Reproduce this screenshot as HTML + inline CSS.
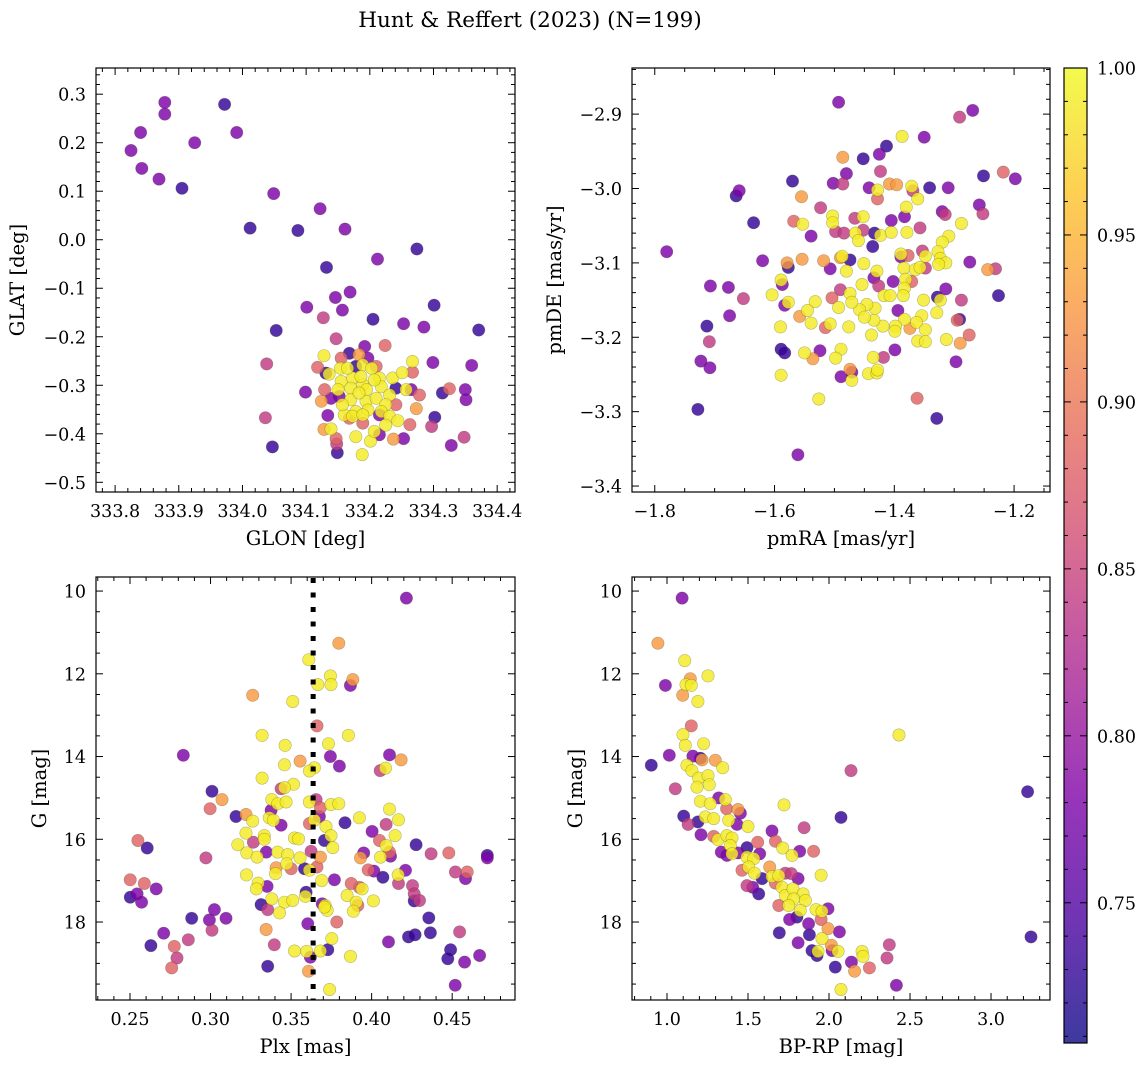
<!DOCTYPE html>
<html><head><meta charset="utf-8"><style>
html,body{margin:0;padding:0;background:#fff}
svg{display:block;font-family:"DejaVu Serif","Liberation Serif",serif}
</style></head><body>
<svg id="fig" width="1148" height="1067" viewBox="0 0 1148 1067" xmlns="http://www.w3.org/2000/svg">
<text x="530" y="27" font-size="21.5" text-anchor="middle">Hunt &amp; Reffert (2023) (N=199)</text>
<defs><linearGradient id="plasma" x1="0" y1="1" x2="0" y2="0"></linearGradient></defs>
</svg>
<script>
// ---- Panel 1: GLON vs GLAT ----
const p1x=[333.878,333.878,333.840,333.825,333.842,333.869,333.905,333.972,333.991,333.925,334.049,334.122,334.012,334.087,334.161,334.274,334.212,334.132,334.169,334.146,334.101,334.157,334.127,334.205,334.253,334.285,334.301,334.371,334.053,334.147,334.192,334.224,334.038,334.299,334.360,334.099,334.314,334.325,334.350,334.351,334.124,334.273,334.036,334.134,334.302,334.297,334.263,334.348,334.328,334.047,334.149,334.148,334.147,334.237,334.253,334.128,334.188,
334.155,334.183,334.168,334.197,334.210,334.118,334.178,334.131,334.129,334.139,334.241,334.267,334.278,334.265,334.241,334.215,334.168,334.189,334.215,334.152,
334.128,334.154,334.136,334.155,334.173,334.189,334.203,334.215,334.236,334.251,334.267,334.150,334.170,334.189,334.195,334.218,334.231,334.257,334.170,334.194,334.210,334.225,334.160,334.178,334.197,334.218,334.231,334.244,334.173,334.189,334.139,334.178,334.201,334.207,334.225,334.157,334.183,334.207,334.165,334.186];
const p1y=[0.283,0.259,0.221,0.184,0.147,0.125,0.106,0.279,0.221,0.200,0.095,0.064,0.024,0.019,0.022,-0.019,-0.040,-0.057,-0.108,-0.119,-0.139,-0.145,-0.161,-0.164,-0.173,-0.180,-0.135,-0.186,-0.187,-0.204,-0.220,-0.218,-0.256,-0.253,-0.259,-0.314,-0.316,-0.307,-0.309,-0.330,-0.333,-0.348,-0.367,-0.362,-0.366,-0.385,-0.381,-0.407,-0.424,-0.427,-0.439,-0.421,-0.410,-0.411,-0.410,-0.391,-0.443,
-0.244,-0.237,-0.234,-0.244,-0.261,-0.263,-0.261,-0.275,-0.309,-0.327,-0.306,-0.273,-0.320,-0.309,-0.340,-0.361,-0.368,-0.378,-0.402,-0.323,
-0.239,-0.265,-0.277,-0.292,-0.285,-0.258,-0.265,-0.285,-0.285,-0.274,-0.251,-0.309,-0.306,-0.299,-0.309,-0.303,-0.320,-0.309,-0.330,-0.333,-0.327,-0.340,-0.361,-0.354,-0.351,-0.354,-0.364,-0.373,-0.364,-0.361,-0.390,-0.406,-0.415,-0.395,-0.382,-0.340,-0.316,-0.289,-0.265,-0.282];
const p1c=[0.78,0.78,0.78,0.78,0.78,0.78,0.73,0.73,0.78,0.78,0.78,0.78,0.73,0.73,0.78,0.73,0.78,0.73,0.78,0.78,0.78,0.78,0.84,0.73,0.78,0.78,0.73,0.73,0.73,0.84,0.78,0.88,0.84,0.78,0.78,0.78,0.73,0.88,0.78,0.78,0.93,0.93,0.84,0.78,0.73,0.84,0.88,0.84,0.78,0.73,0.73,0.84,0.88,0.93,0.78,0.93,0.99,
0.88,0.93,0.73,0.78,0.88,0.88,0.73,0.73,0.88,0.78,0.73,0.88,0.88,0.78,0.88,0.78,0.88,0.88,0.78,0.78,
0.99,0.99,0.99,0.99,0.99,0.99,0.99,0.99,0.99,0.99,0.99,0.99,0.99,0.99,0.99,0.99,0.99,0.99,0.99,0.99,0.99,0.99,0.99,0.99,0.99,0.99,0.99,0.99,0.99,0.99,0.99,0.99,0.99,0.99,0.99,0.99,0.99,0.99,0.99,0.99];
// ---- Panel 2: pmRA vs pmDE ----
const p2x=[-1.493,-1.780,-1.728,-1.561,-1.664,-1.659,-1.635,-1.620,-1.707,-1.677,-1.652,-1.675,-1.713,-1.709,-1.723,-1.708,-1.570,-1.555,-1.568,-1.553,-1.523,-1.539,-1.502,-1.486,-1.480,-1.486,-1.452,-1.425,-1.413,-1.387,-1.350,-1.423,-1.442,-1.428,-1.428,-1.408,-1.396,-1.371,-1.369,-1.361,-1.341,-1.310,-1.291,-1.269,-1.251,-1.218,-1.198,-1.258,-1.252,-1.320,-1.315,-1.288,-1.380,-1.383,-1.405,-1.357,-1.503,-1.503,-1.498,-1.484,-1.466,-1.452,-1.452,-1.465,-1.460,-1.433,-1.423,-1.436,-1.405,-1.379,-1.309,-1.320,-1.274,-1.244,-1.231,-1.226,-1.327,-1.323,-1.314,-1.326,-1.348,-1.353,-1.348,-1.389,-1.377,-1.389,-1.384,-1.365,-1.357,-1.381,-1.383,-1.385,-1.402,-1.371,-1.314,-1.328,-1.323,-1.288,-1.351,-1.329,-1.354,-1.295,-1.291,-1.275,-1.290,-1.313,-1.297,-1.362,-1.329,-1.363,-1.348,-1.361,-1.348,-1.374,-1.394,-1.383,-1.398,-1.399,-1.419,-1.438,-1.434,-1.432,-1.446,-1.458,-1.450,-1.435,-1.418,-1.399,-1.443,-1.429,-1.428,-1.471,-1.474,-1.471,-1.489,-1.489,-1.498,-1.476,-1.493,-1.504,-1.490,-1.474,-1.471,-1.454,-1.451,-1.434,-1.429,-1.426,-1.417,-1.407,-1.480,-1.487,-1.490,-1.474,-1.507,-1.518,-1.554,-1.579,-1.577,-1.589,-1.587,-1.604,-1.577,-1.583,-1.532,-1.545,-1.558,-1.539,-1.515,-1.507,-1.590,-1.589,-1.583,-1.550,-1.524,-1.536,-1.589,-1.526];
const p2y=[-2.884,-3.085,-3.297,-3.358,-3.010,-3.003,-3.046,-3.097,-3.131,-3.133,-3.148,-3.171,-3.185,-3.206,-3.232,-3.241,-2.990,-3.011,-3.044,-3.048,-3.026,-3.064,-2.993,-2.994,-2.980,-2.958,-2.960,-2.954,-2.943,-2.930,-2.931,-2.977,-2.999,-3.002,-3.014,-2.994,-2.995,-2.997,-3.003,-3.014,-2.999,-2.999,-2.904,-2.895,-2.983,-2.978,-2.987,-3.022,-3.034,-3.031,-3.035,-3.047,-3.025,-3.038,-3.043,-3.053,-3.037,-3.046,-3.058,-3.060,-3.040,-3.038,-3.056,-3.060,-3.070,-3.060,-3.063,-3.078,-3.059,-3.059,-3.064,-3.072,-3.099,-3.109,-3.108,-3.144,-3.085,-3.094,-3.100,-3.102,-3.091,-3.084,-3.107,-3.088,-3.090,-3.092,-3.107,-3.109,-3.106,-3.122,-3.134,-3.144,-3.125,-3.125,-3.135,-3.146,-3.150,-3.150,-3.150,-3.167,-3.171,-3.177,-3.176,-3.197,-3.208,-3.203,-3.233,-3.282,-3.309,-3.180,-3.190,-3.205,-3.206,-3.188,-3.164,-3.176,-3.185,-3.192,-3.185,-3.197,-3.177,-3.161,-3.156,-3.163,-3.173,-3.227,-3.227,-3.217,-3.249,-3.248,-3.244,-3.258,-3.243,-3.247,-3.253,-3.216,-3.228,-3.186,-3.160,-3.147,-3.136,-3.141,-3.153,-3.129,-3.101,-3.120,-3.111,-3.131,-3.144,-3.144,-3.111,-3.091,-3.093,-3.096,-3.108,-3.097,-3.095,-3.100,-3.106,-3.123,-3.129,-3.143,-3.153,-3.157,-3.152,-3.164,-3.172,-3.181,-3.187,-3.182,-3.186,-3.216,-3.221,-3.221,-3.218,-3.229,-3.251,-3.283];
const p2c=[0.78,0.78,0.73,0.78,0.73,0.78,0.73,0.78,0.78,0.78,0.84,0.78,0.73,0.84,0.78,0.78,0.73,0.93,0.88,0.99,0.84,0.78,0.78,0.84,0.78,0.93,0.73,0.78,0.73,0.99,0.78,0.84,0.78,0.99,0.88,0.93,0.93,0.99,0.84,0.99,0.73,0.78,0.84,0.78,0.73,0.88,0.78,0.78,0.84,0.78,0.84,0.99,0.99,0.78,0.78,0.84,0.99,0.99,0.84,0.84,0.84,0.99,0.84,0.99,0.99,0.73,0.99,0.73,0.99,0.99,0.99,0.99,0.78,0.93,0.84,0.73,0.99,0.99,0.99,0.99,0.99,0.84,0.84,0.99,0.88,0.78,0.99,0.99,0.99,0.99,0.99,0.99,0.78,0.88,0.78,0.73,0.99,0.84,0.99,0.99,0.99,0.88,0.73,0.88,0.93,0.99,0.78,0.88,0.73,0.99,0.99,0.99,0.99,0.93,0.78,0.99,0.99,0.99,0.99,0.99,0.99,0.99,0.99,0.99,0.99,0.99,0.84,0.78,0.99,0.99,0.99,0.99,0.93,0.78,0.78,0.99,0.99,0.99,0.99,0.88,0.84,0.99,0.99,0.99,0.99,0.78,0.99,0.84,0.99,0.99,0.99,0.99,0.93,0.73,0.78,0.93,0.93,0.93,0.73,0.99,0.78,0.99,0.99,0.78,0.99,0.99,0.93,0.99,0.88,0.99,0.99,0.73,0.73,0.99,0.78,0.93,0.99,0.99];
// ---- Panel 3: Plx vs G ----
const p3x=[0.4216,0.3796,0.3610,0.3744,0.3748,0.3666,0.3883,0.3868,0.3262,0.3510,0.3661,0.3320,0.3856,0.3732,0.3463,0.2831,0.3744,0.3800,0.3556,0.3459,0.3645,0.3614,0.4111,0.4183,0.4086,0.4053,0.3320,0.3515,0.3459,0.3438,0.3009,0.3071,0.2997,0.3380,0.3417,0.3469,0.3376,0.3158,0.3220,0.3262,0.3365,0.3390,0.3438,0.3614,0.3655,0.3682,0.3676,0.3645,0.3614,0.3748,0.3796,0.3717,0.3748,0.3707,0.3759,0.3835,0.3924,0.4111,0.4167,0.4090,0.4146,0.4003,0.4276,0.4369,0.4479,0.4718,0.4718,0.4049,0.4090,0.4111,0.4117,0.4055,0.3951,0.3931,0.3979,0.4014,0.4070,0.4165,0.4210,0.4167,0.4254,0.4264,0.4264,0.4297,0.4520,0.4593,0.4583,0.3220,0.3334,0.3334,0.3266,0.3169,0.3225,0.3289,0.3346,0.3417,0.3479,0.3521,0.3546,0.3556,0.3473,0.3407,0.3403,0.3501,0.3583,0.3614,0.3661,0.3624,0.3682,0.3223,0.3295,0.3285,0.3351,0.2971,0.2549,0.2607,0.2501,0.2589,0.2663,0.2502,0.2544,0.2572,0.3380,0.3459,0.3510,0.3589,0.3593,0.3693,0.3712,0.3724,0.3707,0.3314,0.3355,0.3428,0.3848,0.3904,0.3914,0.3887,0.3941,0.3924,0.4011,0.3873,0.3690,0.3769,0.3024,0.2993,0.3096,0.2883,0.3009,0.2709,0.2630,0.2775,0.2862,0.2792,0.2759,0.3345,0.3396,0.3355,0.3521,0.3604,0.3597,0.3620,0.3682,0.3728,0.3753,0.3869,0.3784,0.3608,0.3739,0.4105,0.4229,0.4270,0.4365,0.4355,0.4546,0.4490,0.4473,0.4577,0.4670,0.4519];
const p3y=[10.17,11.26,11.66,12.05,12.26,12.26,12.14,12.28,12.52,12.67,13.26,13.49,13.49,13.69,13.73,13.97,14.00,14.23,14.11,14.20,14.27,14.35,13.96,14.08,14.28,14.34,14.52,14.67,14.75,14.78,14.84,15.04,15.26,15.04,15.14,15.10,15.30,15.45,15.40,15.56,15.48,15.54,15.66,15.10,15.04,15.24,15.45,15.54,15.62,15.16,15.14,15.69,15.91,16.03,16.20,15.60,15.48,15.27,15.53,15.64,15.91,15.81,16.13,16.35,16.33,16.39,16.45,16.03,16.15,16.31,16.41,16.43,16.33,16.45,16.74,16.77,16.92,16.86,16.75,17.07,17.12,17.32,17.49,17.48,16.79,16.79,16.95,15.85,15.91,16.00,16.07,16.13,16.33,16.43,16.31,16.31,16.37,15.97,15.99,16.45,16.59,16.69,16.83,16.71,16.71,16.75,16.67,16.29,16.43,16.86,17.06,17.20,17.14,16.45,16.03,16.21,16.98,17.07,17.20,17.40,17.32,17.52,17.44,17.52,17.48,17.38,17.28,17.56,17.60,17.72,17.64,17.58,17.70,17.78,17.36,17.52,17.60,17.74,17.20,17.16,17.49,17.07,17.00,16.98,17.70,17.95,17.91,17.91,18.20,18.27,18.57,18.59,18.43,18.87,19.11,18.18,18.55,19.07,18.70,18.04,18.71,18.85,18.70,18.67,18.40,18.83,18.00,19.19,19.63,18.48,18.36,18.31,18.26,17.90,18.24,18.67,18.89,18.97,18.81,19.53];
const p3c=[0.78,0.93,0.99,0.99,0.99,0.99,0.93,0.78,0.93,0.99,0.88,0.99,0.99,0.99,0.99,0.78,0.78,0.78,0.93,0.99,0.99,0.99,0.78,0.93,0.99,0.84,0.99,0.99,0.99,0.84,0.73,0.93,0.88,0.99,0.99,0.99,0.78,0.73,0.93,0.99,0.99,0.99,0.78,0.99,0.84,0.88,0.78,0.99,0.88,0.99,0.99,0.99,0.99,0.73,0.99,0.73,0.99,0.99,0.99,0.84,0.99,0.78,0.73,0.84,0.88,0.73,0.78,0.88,0.99,0.88,0.78,0.99,0.78,0.93,0.88,0.78,0.73,0.99,0.78,0.84,0.84,0.84,0.73,0.84,0.84,0.88,0.78,0.99,0.99,0.99,0.84,0.99,0.99,0.99,0.78,0.99,0.99,0.99,0.99,0.99,0.99,0.93,0.99,0.88,0.73,0.99,0.88,0.84,0.93,0.99,0.99,0.99,0.78,0.84,0.88,0.73,0.88,0.88,0.78,0.73,0.78,0.78,0.99,0.99,0.99,0.99,0.73,0.78,0.99,0.99,0.99,0.73,0.84,0.99,0.99,0.99,0.88,0.99,0.99,0.88,0.99,0.88,0.99,0.78,0.78,0.78,0.78,0.73,0.84,0.78,0.73,0.88,0.84,0.84,0.88,0.93,0.84,0.73,0.99,0.78,0.99,0.78,0.99,0.73,0.99,0.99,0.88,0.93,0.99,0.78,0.73,0.73,0.73,0.73,0.84,0.73,0.73,0.78,0.78,0.78];
// ---- Panel 4: BP-RP vs G ----
const p4x=[1.093,0.944,1.109,1.253,0.990,1.144,1.117,1.150,1.097,1.191,1.150,1.099,1.113,1.226,2.432,1.014,0.903,1.160,1.206,1.216,1.298,1.344,1.123,1.154,1.195,1.253,1.185,1.261,1.051,2.136,3.226,1.206,1.267,1.319,1.360,1.368,1.438,1.453,1.103,1.237,1.288,1.191,1.130,1.381,1.500,1.432,1.722,2.074,1.210,1.288,1.315,1.370,1.401,1.391,1.335,1.370,1.401,1.438,1.494,1.494,1.535,1.560,1.572,1.648,1.669,1.714,1.772,1.819,1.846,1.905,1.951,1.463,1.504,1.541,1.587,1.566,1.494,1.529,1.634,1.648,1.690,1.730,1.767,1.809,1.669,1.710,1.730,1.778,1.840,1.782,1.854,1.751,1.690,1.823,1.920,1.957,1.994,1.757,1.802,1.874,1.879,1.693,1.809,1.951,1.994,2.064,1.957,2.015,2.019,1.895,1.926,1.932,2.056,2.039,2.138,2.158,2.204,2.210,2.249,2.372,2.358,2.416,2.074,3.247];
const p4y=[10.17,11.26,11.68,12.05,12.28,12.12,12.26,12.28,12.52,12.67,13.26,13.47,13.73,13.69,13.48,13.97,14.21,13.99,14.04,14.08,14.09,14.27,14.21,14.34,14.52,14.46,14.74,14.68,14.78,14.34,14.85,15.08,15.14,15.00,15.04,15.26,15.28,15.37,15.44,15.46,15.50,15.58,15.64,15.54,15.69,15.64,15.17,15.47,15.89,15.93,16.01,15.91,15.97,16.15,16.31,16.39,16.35,16.33,16.20,16.43,16.47,16.07,16.35,15.80,16.05,16.21,16.39,16.29,15.72,16.29,16.87,16.75,16.67,16.82,16.95,17.32,17.12,17.16,16.67,16.90,16.88,16.82,16.83,16.95,17.06,17.16,17.36,17.20,17.32,17.44,17.48,17.60,17.60,17.72,17.70,17.74,17.68,17.94,17.88,18.04,18.31,18.26,18.50,17.94,18.16,18.24,18.40,18.56,18.69,18.69,18.81,18.71,18.71,19.09,18.97,19.19,18.71,18.83,19.11,18.55,18.87,19.53,19.63,18.36];
const p4c=[0.78,0.93,0.99,0.99,0.78,0.93,0.99,0.99,0.93,0.99,0.88,0.99,0.99,0.99,0.99,0.78,0.73,0.78,0.73,0.93,0.93,0.99,0.99,0.99,0.99,0.99,0.99,0.99,0.84,0.84,0.73,0.99,0.99,0.78,0.99,0.88,0.93,0.78,0.73,0.99,0.99,0.73,0.84,0.99,0.99,0.78,0.99,0.73,0.78,0.88,0.99,0.99,0.99,0.99,0.78,0.78,0.99,0.78,0.73,0.99,0.99,0.88,0.78,0.78,0.88,0.99,0.99,0.78,0.84,0.88,0.99,0.88,0.99,0.99,0.73,0.73,0.84,0.78,0.93,0.99,0.99,0.84,0.84,0.78,0.88,0.99,0.99,0.99,0.99,0.99,0.99,0.99,0.88,0.99,0.99,0.99,0.78,0.78,0.73,0.78,0.73,0.73,0.78,0.88,0.93,0.78,0.99,0.93,0.78,0.73,0.73,0.99,0.99,0.73,0.78,0.93,0.99,0.99,0.88,0.84,0.84,0.78,0.99,0.73];
// ---- Colorbar ticks ----
const cbTicks=[0.75,0.80,0.85,0.90,0.95,1.00];

const NS="http://www.w3.org/2000/svg";
const svg=document.getElementById('fig');
const CMIN=0.708,CMAX=1.0;
const FS=17.5, FT=19.5;
const PL=["#0d0887","#4c02a1","#7e03a8","#a92395","#cc4778","#e56b5d","#f89540","#fdc527","#f0f921"];
function hex(h){return [1,3,5].map(i=>parseInt(h.substr(i,2),16));}
function cmap(v){let t=Math.max(0,Math.min(1,(v-CMIN)/(CMAX-CMIN)))*(PL.length-1);let i=Math.min(PL.length-2,Math.floor(t)),f=t-i;const a=hex(PL[i]),b=hex(PL[i+1]);return 'rgb('+a.map((x,k)=>Math.round(x+(b[k]-x)*f)).join(',')+')';}
function el(tag,attrs,parent){const e=document.createElementNS(NS,tag);for(const k in attrs)e.setAttribute(k,attrs[k]);(parent||svg).appendChild(e);return e;}
function fmt(v,d){return (v<0?'\u2212':'')+Math.abs(v).toFixed(d);}

function panel(name,fr,xd,yd,xMaj,xMin,xDec,yMaj,yMin,yDec,xs,ys,cs,xlab,ylab,ylabX){
  const g=el('g',{});
  
  
  const sx=v=>fr.x0+(v-xd[0])/(xd[1]-xd[0])*(fr.x1-fr.x0);
  const sy=v=>fr.y1-(v-yd[0])/(yd[1]-yd[0])*(fr.y1-fr.y0);
  const order=cs.map((c,i)=>i).sort((a,b)=>cs[a]-cs[b]);
  const pts=el('g',{},g);
  
  
  order.forEach(i=>{
    const c=el('circle',{cx:sx(xs[i]).toFixed(1),cy:sy(ys[i]).toFixed(1),r:6.2,fill:cmap(cs[i]),'fill-opacity':0.82,stroke:'rgba(60,60,30,0.35)','stroke-width':0.6},pts);
    
    
  });
  const lo=Math.min(xd[0],xd[1]),hi=Math.max(xd[0],xd[1]);
  for(let k=Math.ceil(lo/xMin-1e-6);k*xMin<=hi+1e-9;k++){
    const v=k*xMin,X=sx(v),maj=Math.abs(v/xMaj-Math.round(v/xMaj))<1e-6,L=maj?7:4;
    el('line',{x1:X,x2:X,y1:fr.y1,y2:fr.y1-L,stroke:'#000','stroke-width':1},g);
    el('line',{x1:X,x2:X,y1:fr.y0,y2:fr.y0+L,stroke:'#000','stroke-width':1},g);
    if(maj){const t=el('text',{x:X,y:fr.y1+25,'font-size':FS,'text-anchor':'middle'},g);t.textContent=fmt(v,xDec);
      
      }
  }
  const ylo=Math.min(yd[0],yd[1]),yhi=Math.max(yd[0],yd[1]);
  for(let k=Math.ceil(ylo/yMin-1e-6);k*yMin<=yhi+1e-9;k++){
    const v=k*yMin,Y=sy(v),maj=Math.abs(v/yMaj-Math.round(v/yMaj))<1e-6,L=maj?7:4;
    el('line',{x1:fr.x0,x2:fr.x0+L,y1:Y,y2:Y,stroke:'#000','stroke-width':1},g);
    el('line',{x1:fr.x1,x2:fr.x1-L,y1:Y,y2:Y,stroke:'#000','stroke-width':1},g);
    if(maj){const t=el('text',{x:fr.x0-10,y:Y+6.5,'font-size':FS,'text-anchor':'end'},g);t.textContent=fmt(v,yDec);
      
      }
  }
  const f=el('rect',{x:fr.x0,y:fr.y0,width:fr.x1-fr.x0,height:fr.y1-fr.y0,fill:'none',stroke:'#000','stroke-width':1.2},g);
  
  
  const xl=el('text',{x:(fr.x0+fr.x1)/2,y:fr.y1+53,'font-size':FT,'text-anchor':'middle'},g);xl.textContent=xlab;
  
  
  const cy=(fr.y0+fr.y1)/2;
  const yl=el('text',{x:ylabX,y:cy,'font-size':FT,'text-anchor':'middle',transform:'rotate(-90 '+ylabX+' '+cy+')'},g);yl.textContent=ylab;
  
  
  return {sx,sy};
}

panel('glon-glat-panel',{x0:96,x1:515,y0:68,y1:492},[333.77,334.428],[-0.52,0.354],0.1,0.02,1,0.1,0.02,1,p1x,p1y,p1c,'GLON [deg]','GLAT [deg]',24);
panel('pm-panel',{x0:632,x1:1050,y0:68,y1:492},[-1.838,-1.14],[-3.408,-2.838],0.2,0.05,1,0.1,0.02,1,p2x,p2y,p2c,'pmRA [mas/yr]','pmDE [mas/yr]',561);
const s3=panel('plx-g-panel',{x0:96,x1:515,y0:577,y1:1000},[0.2289,0.489],[19.885,9.66],0.05,0.01,2,2,0.5,0,p3x,p3y,p3c,'Plx [mas]','G [mag]',46);
panel('cmd-panel',{x0:632,x1:1050,y0:577,y1:1000},[0.784,3.364],[19.885,9.66],0.5,0.1,1,2,0.5,0,p4x,p4y,p4c,'BP-RP [mag]','G [mag]',582);

// dotted reference line (cluster parallax)
const plxRef=0.3637;
const dl=el('line',{x1:s3.sx(plxRef),x2:s3.sx(plxRef),y1:578,y2:1000,stroke:'#000','stroke-width':5,'stroke-dasharray':'5 9.5'});



// colorbar
const grad=document.getElementById('plasma');
PL.forEach((c,i)=>el('stop',{offset:(i/(PL.length-1)),'stop-color':c},grad));
const cb={x0:1064,x1:1087,y0:68,y1:1043};
const cbg=el('g',{});


el('rect',{x:cb.x0,y:cb.y0,width:cb.x1-cb.x0,height:cb.y1-cb.y0,fill:'url(#plasma)','fill-opacity':0.8},cbg);
el('rect',{x:cb.x0,y:cb.y0,width:cb.x1-cb.x0,height:cb.y1-cb.y0,fill:'none',stroke:'#000','stroke-width':1.2},cbg);
const cy=v=>cb.y1-(v-CMIN)/(CMAX-CMIN)*(cb.y1-cb.y0);
for(let k=71;k<=100;k++){const v=k/100,Y=cy(v),maj=k%5===0,L=maj?7:4;
  el('line',{x1:cb.x1,x2:cb.x1-L,y1:Y,y2:Y,stroke:'#000','stroke-width':1},cbg);
  el('line',{x1:cb.x0,x2:cb.x0+L,y1:Y,y2:Y,stroke:'#000','stroke-width':1},cbg);}
cbTicks.forEach(v=>{const t=el('text',{x:cb.x1+10,y:cy(v)+6.5,'font-size':FS},cbg);t.textContent=v.toFixed(2);
  
  });
</script>
</body></html>
